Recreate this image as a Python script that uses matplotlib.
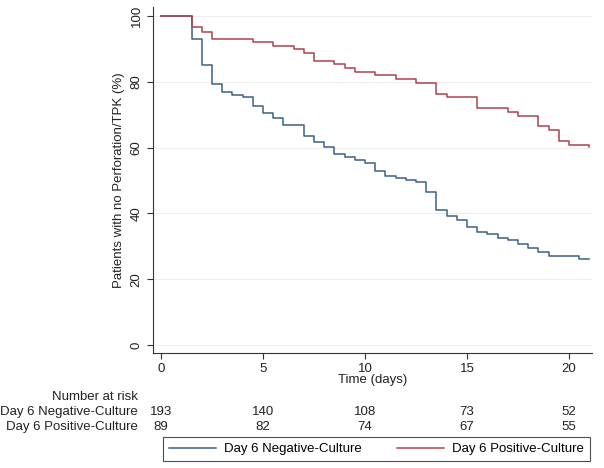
import matplotlib
matplotlib.use("Agg")
import matplotlib.pyplot as plt
from matplotlib.transforms import blended_transform_factory

plt.rcParams['font.family'] = ['Liberation Sans', 'DejaVu Sans']

# Kaplan-Meier steps
neg_t = [0, 1.5, 2, 2.5, 3, 3.5, 4, 4.5, 5, 5.5, 6, 7, 7.5, 8, 8.5, 9, 9.5, 10,
         10.5, 11, 11.5, 12, 12.5, 13, 13.5, 14, 14.5, 15, 15.5, 16, 16.5, 17,
         17.5, 18, 18.5, 19, 20.5, 21]
neg_s = [100, 93.1, 85.0, 79.2, 76.8, 76.1, 75.5, 72.5, 70.5, 69.0, 66.9, 63.4,
         61.6, 60.3, 58.1, 57.1, 56.1, 55.4, 53.0, 51.5, 50.7, 50.2, 49.4, 46.5,
         40.9, 39.3, 37.9, 35.7, 34.3, 33.6, 32.6, 32.0, 30.6, 29.5, 28.2, 27.0,
         26.0, 26.0]

pos_t = [0, 1.5, 2, 2.5, 4.5, 5.5, 6.5, 7, 7.5, 8.5, 9, 9.5, 10.5, 11.5, 12.5,
         13.5, 14, 15.5, 17, 17.5, 18.5, 19, 19.5, 20, 21]
pos_s = [100, 96.5, 95.2, 93.1, 92.0, 90.9, 89.8, 88.7, 86.4, 85.3, 84.2, 83.1,
         82.0, 80.9, 79.7, 76.4, 75.3, 71.9, 70.8, 69.7, 66.4, 65.2, 61.9, 60.8,
         60.1]

risk_times = [0, 5, 10, 15, 20]
neg_risk = [193, 140, 108, 73, 52]
pos_risk = [89, 82, 74, 67, 55]

neg_label = 'Day 6 Negative-Culture'
pos_label = 'Day 6 Positive-Culture'
blue = '#3d6189'
red = '#b0404d'
fs = 9.5

W, H = 604, 468
fig = plt.figure(figsize=(W / 100, H / 100), dpi=100)
ax = fig.add_axes([153 / W, 1 - 352.7 / H, (592 - 153) / W, (352.7 - 6.7) / H])

for y in [0, 20, 40, 60, 80, 100]:
    ax.axhline(y, color='#eeeeee', linewidth=0.8, zorder=0)

ax.step(neg_t, neg_s, where='post', color=blue, linewidth=1.1, label=neg_label)
ax.step(pos_t, pos_s, where='post', color=red, linewidth=1.1, label=pos_label)

ax.set_xlim(-0.39, 21.13)
ax.set_ylim(-2.35, 102.8)
ax.set_xticks(risk_times)
ax.set_yticks([0, 20, 40, 60, 80, 100])
ax.tick_params(labelsize=fs, length=4, width=0.8, color='#333333', labelcolor='#222222')
for lab in ax.get_yticklabels():
    lab.set_rotation(90)
    lab.set_va('center')
ax.spines['top'].set_visible(False)
ax.spines['right'].set_visible(False)
for s in ['left', 'bottom']:
    ax.spines[s].set_linewidth(0.8)
    ax.spines[s].set_color('#333333')

ax.set_xlabel('Time (days)', fontsize=fs, labelpad=-1, color='#222222')
ax.set_ylabel('Patients with no Perforation/TPK (%)', fontsize=fs, labelpad=4, color='#222222')

# number at risk table
tr = blended_transform_factory(ax.transData, fig.transFigure)
fig.text(138 / W, 1 - 397 / H, 'Number at risk', ha='right', va='center', fontsize=fs, color='#222222')
fig.text(138 / W, 1 - 412 / H, neg_label, ha='right', va='center', fontsize=fs, color='#222222')
fig.text(138 / W, 1 - 427 / H, pos_label, ha='right', va='center', fontsize=fs, color='#222222')
for t, n1, n2 in zip(risk_times, neg_risk, pos_risk):
    ax.text(t, 1 - 412 / H, str(n1), transform=tr, ha='center', va='center', fontsize=fs, color='#222222')
    ax.text(t, 1 - 427 / H, str(n2), transform=tr, ha='center', va='center', fontsize=fs, color='#222222')

leg = fig.legend(loc='center', ncol=2, mode='expand', fontsize=fs,
                 bbox_to_anchor=(162.7 / W, 1 - 461 / H, (590 - 162.7) / W, 24 / H),
                 frameon=True, fancybox=False, handlelength=3.6, handletextpad=0.6,
                 borderaxespad=0, borderpad=0.45, columnspacing=2)
leg.get_frame().set_edgecolor('#222222')
leg.get_frame().set_linewidth(0.8)

fig.savefig('out.png', dpi=100)
